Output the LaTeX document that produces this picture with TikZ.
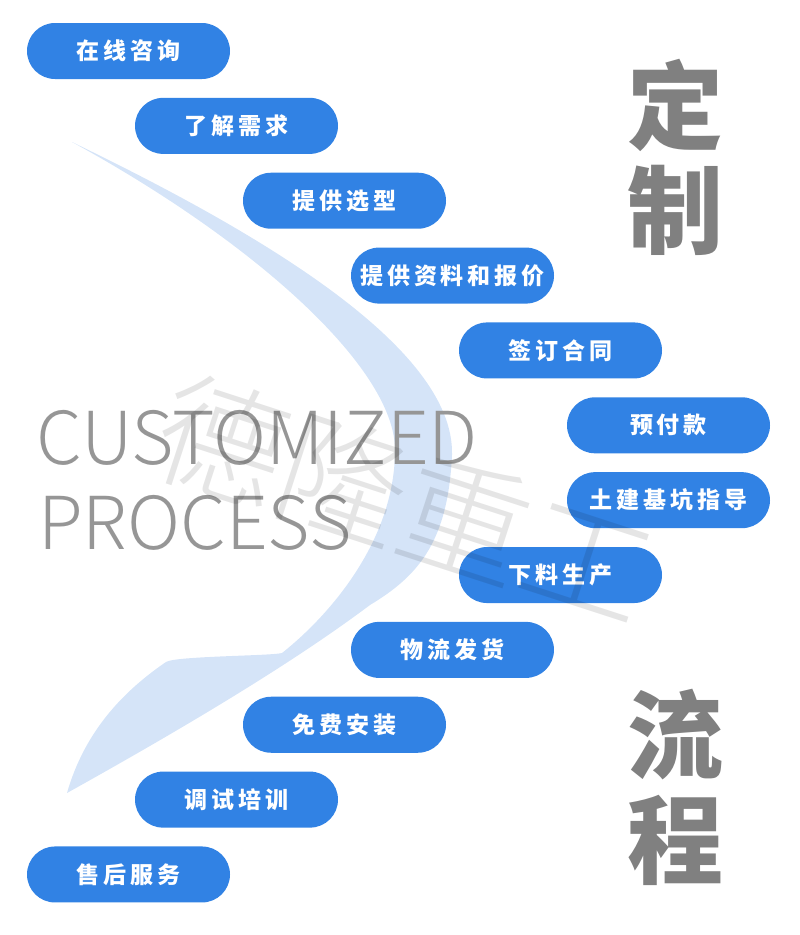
\documentclass[tikz,border=0pt]{standalone}
\usepackage{fontspec}
\newfontfamily\cjk{Noto Sans CJK SC}
\newfontfamily\pillfont{Noto Sans CJK SC}[LetterSpace=17]
\newfontfamily\thinfont{Noto Sans CJK SC Light}
\definecolor{pillblue}{RGB}{49,130,228}
\definecolor{swooshblue}{RGB}{213,228,248}
\definecolor{biggrey}{RGB}{128,128,128}
\definecolor{titlegrey}{RGB}{150,150,150}
\tikzset{
  stepbox/.style={fill=pillblue, rounded corners=28pt, minimum width=203pt,
    minimum height=56pt, inner sep=0pt, text=white,
    font=\pillfont\bfseries\fontsize{23}{23}\selectfont},
  bigword/.style={text=biggrey, inner sep=0pt,
    font=\cjk\bfseries\fontsize{96}{96}\selectfont},
  titleword/.style={text=titlegrey, inner sep=0pt, anchor=base west,
    font=\thinfont\fontsize{73}{73}\selectfont},
  watermark/.style={text=black, text opacity=0.1, inner sep=0pt,
    font=\thinfont\fontsize{128}{128}\selectfont}
}
\begin{document}
\begin{tikzpicture}[x=1pt,y=-1pt]
      \useasboundingbox (0,0) rectangle (800,935);
      % swoosh behind
      \fill[swooshblue] (72,142) .. controls (250,228) and (455,345) .. (452,455)
        .. controls (448,540) and (420,575) .. (370,605)
        .. controls (290,665) and (180,730) .. (67,793)
        .. controls (85,730) and (125,690) .. (166,662)
        .. controls (175,656) and (270,656) .. (282,653)
        .. controls (330,615) and (395,540) .. (395,450)
        .. controls (395,370) and (260,245) .. (72,142) -- cycle;
      \node[titleword] (custom) at (36,464) {CUSTOMIZED};
      \node[titleword] (process) at (38,549) {PROCESS};
      % steps
      \foreach \txt [count=\i from 0] in {在线咨询,了解需求,提供选型,提供资料和报价,
          签订合同,预付款,土建基坑指导,下料生产,物流发货,免费安装,调试培训,售后服务} {
        \pgfmathsetmacro{\col}{\i<6 ? \i : 11-\i}
        \node[stepbox] (step\i) at (128.5+108*\col, 51+74.86*\i) {\txt};
      }
      \node[bigword] (ding) at (675,105) {定};
      \node[bigword] (zhi) at (675,210) {制};
      \node[bigword] (liu) at (675,735) {流};
      \node[bigword] (cheng) at (675,840) {程};
      \node[watermark, rotate=-18] (logo) at (405,500) {德隆重工};
    \end{tikzpicture}
\end{document}
